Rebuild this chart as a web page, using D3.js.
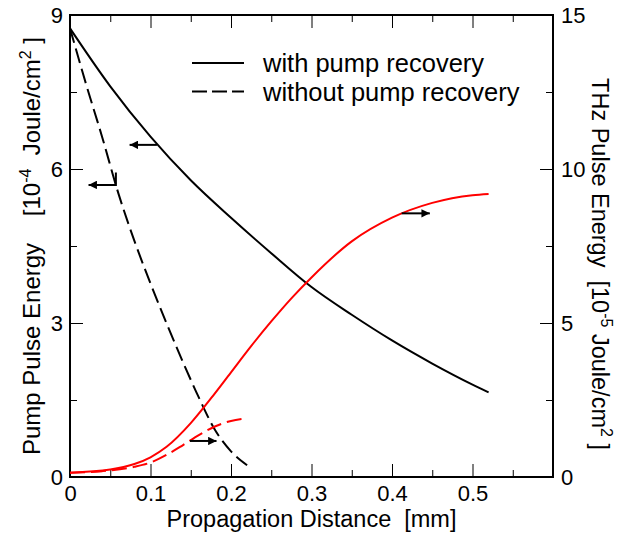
<!DOCTYPE html>
<html lang="en">
<head>
<meta charset="utf-8">
<title>Pump and THz pulse energy</title>
<script src="https://d3js.org/d3.v7.min.js"></script>
<style>
  body { margin: 0; background: #fff; }
  text { font-family: "Liberation Sans", Arial, sans-serif; fill: #000; white-space: pre; }
</style>
</head>
<body>
<script>
// Data (x in mm)
var pumpRecX   = [0, 0.05, 0.1, 0.15, 0.2, 0.25, 0.3, 0.35, 0.4, 0.45, 0.5, 0.52];
var pumpRecY   = [8.74, 7.61, 6.63, 5.78, 5.05, 4.36, 3.70, 3.16, 2.66, 2.21, 1.80, 1.65];
var pumpNoX    = [0, 0.02, 0.04, 0.06, 0.08, 0.1, 0.12, 0.14, 0.16, 0.18, 0.2, 0.22];
var pumpNoY    = [8.74, 7.65, 6.62, 5.53, 4.60, 3.77, 2.99, 2.25, 1.55, 0.92, 0.50, 0.23];
var thzRecX    = [0, 0.05, 0.08, 0.1, 0.12, 0.15, 0.175, 0.2, 0.225, 0.25, 0.275, 0.3, 0.35, 0.4, 0.45, 0.5, 0.52];
var thzRecY    = [0.14, 0.24, 0.42, 0.64, 0.98, 1.75, 2.55, 3.40, 4.25, 5.05, 5.80, 6.48, 7.65, 8.42, 8.90, 9.15, 9.19];
var thzNoX     = [0, 0.04, 0.08, 0.1, 0.12, 0.14, 0.16, 0.18, 0.2, 0.216];
var thzNoY     = [0.14, 0.19, 0.33, 0.47, 0.72, 1.03, 1.36, 1.64, 1.82, 1.89];

var xTicks     = [0, 0.1, 0.2, 0.3, 0.4, 0.5];
var leftTicks  = [0, 3, 6, 9];
var rightTicks = [0, 5, 10, 15];
var legendLabels = ["with pump recovery", "without pump recovery"];

// arrows: x from, x to, y (the dashed-pump one has a small vertical lead-in)
var arrows = [
  { x0: 0.108, x1: 0.074, y: 6.47, axis: "left" },
  { x0: 0.057, x1: 0.023, y: 5.69, axis: "left", yFrom: 5.93 },
  { x0: 0.412, x1: 0.447, y: 8.56, axis: "right" },
  { x0: 0.149, x1: 0.182, y: 1.17, axis: "right" }
];

var width = 636, height = 535;
var margin = { top: 15, right: 83, bottom: 58, left: 70 };
var W = width - margin.left - margin.right;
var H = height - margin.top - margin.bottom;

var svg = d3.select("body").append("svg")
  .attr("width", width)
  .attr("height", height);

var g = svg.append("g").attr("transform", "translate(" + margin.left + "," + margin.top + ")");

var x = d3.scaleLinear().domain([0, 0.6]).range([0, W]);
var yL = d3.scaleLinear().domain([0, 9]).range([H, 0]);
var yR = d3.scaleLinear().domain([0, 15]).range([H, 0]);

// ticks point inward: major + minor on all four sides
var axB = g.append("g").attr("transform", "translate(0," + H + ")")
  .call(d3.axisBottom(x).tickValues(xTicks).tickSizeInner(-13).tickSizeOuter(0).tickPadding(8)
    .tickFormat(function(d) { return d === 0 ? "0" : d3.format(".1f")(d); }));
g.append("g").attr("transform", "translate(0," + H + ")")
  .call(d3.axisBottom(x).tickValues(d3.range(0.05, 0.6, 0.1)).tickSizeInner(-7).tickSizeOuter(0).tickFormat(""));
g.append("g")
  .call(d3.axisTop(x).tickValues(xTicks).tickSizeInner(-13).tickSizeOuter(0).tickFormat(""));
g.append("g")
  .call(d3.axisTop(x).tickValues(d3.range(0.05, 0.6, 0.1)).tickSizeInner(-7).tickSizeOuter(0).tickFormat(""));

var axL = g.append("g")
  .call(d3.axisLeft(yL).tickValues(leftTicks).tickSizeInner(-13).tickSizeOuter(0).tickPadding(7));
g.append("g")
  .call(d3.axisLeft(yL).tickValues([1.5, 4.5, 7.5]).tickSizeInner(-7).tickSizeOuter(0).tickFormat(""));
var axR = g.append("g").attr("transform", "translate(" + W + ",0)")
  .call(d3.axisRight(yR).tickValues(rightTicks).tickSizeInner(-13).tickSizeOuter(0).tickPadding(8));
g.append("g").attr("transform", "translate(" + W + ",0)")
  .call(d3.axisRight(yR).tickValues([2.5, 7.5, 12.5]).tickSizeInner(-7).tickSizeOuter(0).tickFormat(""));

g.selectAll(".domain").remove();
g.selectAll(".tick line").attr("stroke", "#000").attr("stroke-width", 1);
g.selectAll(".tick text")
  .attr("font-family", "Liberation Sans, Arial, sans-serif")
  .style("font-size", "22px").attr("fill", "#000");
axL.selectAll(".tick text").attr("dy", "0.35em");
axR.selectAll(".tick text").attr("dy", "0.35em");
axB.selectAll(".tick text").attr("dy", "0.72em");

// frame
g.append("rect").attr("width", W).attr("height", H)
  .attr("fill", "none").attr("stroke", "#000").attr("stroke-width", 2);

// curves
var lineL = d3.line().curve(d3.curveMonotoneX).x(function(d) { return x(d[0]); }).y(function(d) { return yL(d[1]); });
var lineR = d3.line().curve(d3.curveMonotoneX).x(function(d) { return x(d[0]); }).y(function(d) { return yR(d[1]); });

var series = [
  { xs: pumpRecX, ys: pumpRecY, line: lineL, color: "#000", dash: null },
  { xs: pumpNoX,  ys: pumpNoY,  line: lineL, color: "#000", dash: "15,6" },
  { xs: thzRecX,  ys: thzRecY,  line: lineR, color: "#ff0000", dash: null },
  { xs: thzNoX,   ys: thzNoY,   line: lineR, color: "#ff0000", dash: "15,6" }
];

series.forEach(function(s) {
  g.append("path")
    .datum(d3.zip(s.xs, s.ys))
    .attr("d", s.line)
    .attr("fill", "none")
    .attr("stroke", s.color)
    .attr("stroke-width", 2)
    .attr("stroke-dasharray", s.dash);
});

// arrows
svg.append("defs").append("marker")
  .attr("id", "head").attr("viewBox", "0 0 10 10")
  .attr("refX", 10).attr("refY", 5)
  .attr("markerWidth", 4.2).attr("markerHeight", 4.2)
  .attr("markerUnits", "strokeWidth")
  .attr("orient", "auto")
  .append("path").attr("d", "M0,0L10,5L0,10z").attr("fill", "#000");

arrows.forEach(function(a) {
  var ys = a.axis === "left" ? yL : yR;
  var pts = [];
  if (a.yFrom != null) pts.push([x(a.x0), ys(a.yFrom)]);
  pts.push([x(a.x0), ys(a.y)]);
  pts.push([x(a.x1), ys(a.y)]);
  g.append("path")
    .attr("d", d3.line()(pts))
    .attr("fill", "none").attr("stroke", "#000").attr("stroke-width", 2)
    .attr("marker-end", "url(#head)");
});

// legend
var leg = svg.append("g").attr("transform", "translate(192,63)");
legendLabels.forEach(function(t, i) {
  leg.append("line")
    .attr("x1", 0).attr("x2", 52).attr("y1", i * 28.5).attr("y2", i * 28.5)
    .attr("stroke", "#000").attr("stroke-width", 2)
    .attr("stroke-dasharray", i === 1 ? "15,5" : null);
  leg.append("text")
    .attr("x", 71).attr("y", i * 28.5 + 9)
    .style("font-size", "25.5px")
    .text(t);
});

// axis titles
svg.append("text")
  .attr("x", margin.left + W / 2).attr("y", 527)
  .attr("text-anchor", "middle")
  .style("font-size", "23.5px")
  .text("Propagation Distance  [mm]");

var lt = svg.append("text")
  .attr("transform", "translate(40," + (margin.top + H / 2) + ") rotate(-90)")
  .attr("text-anchor", "middle")
  .style("font-size", "24px");
lt.append("tspan").text("Pump Pulse Energy    [10");
lt.append("tspan").attr("dy", -9).style("font-size", "16px").text("-4");
lt.append("tspan").attr("dy", 9).text("  Joule/cm");
lt.append("tspan").attr("dy", -9).style("font-size", "16px").text("2");
lt.append("tspan").attr("dy", 9).text(" ]");

var rt = svg.append("text")
  .attr("transform", "translate(592," + (margin.top + H / 2 + 18) + ") rotate(90)")
  .attr("text-anchor", "middle")
  .style("font-size", "23.5px");
rt.append("tspan").text("THz Pulse Energy  [10");
rt.append("tspan").attr("dy", -9).style("font-size", "16px").text("-5");
rt.append("tspan").attr("dy", 9).text(" Joule/cm");
rt.append("tspan").attr("dy", -9).style("font-size", "16px").text("2");
rt.append("tspan").attr("dy", 9).text(" ]");
</script>
</body>
</html>
